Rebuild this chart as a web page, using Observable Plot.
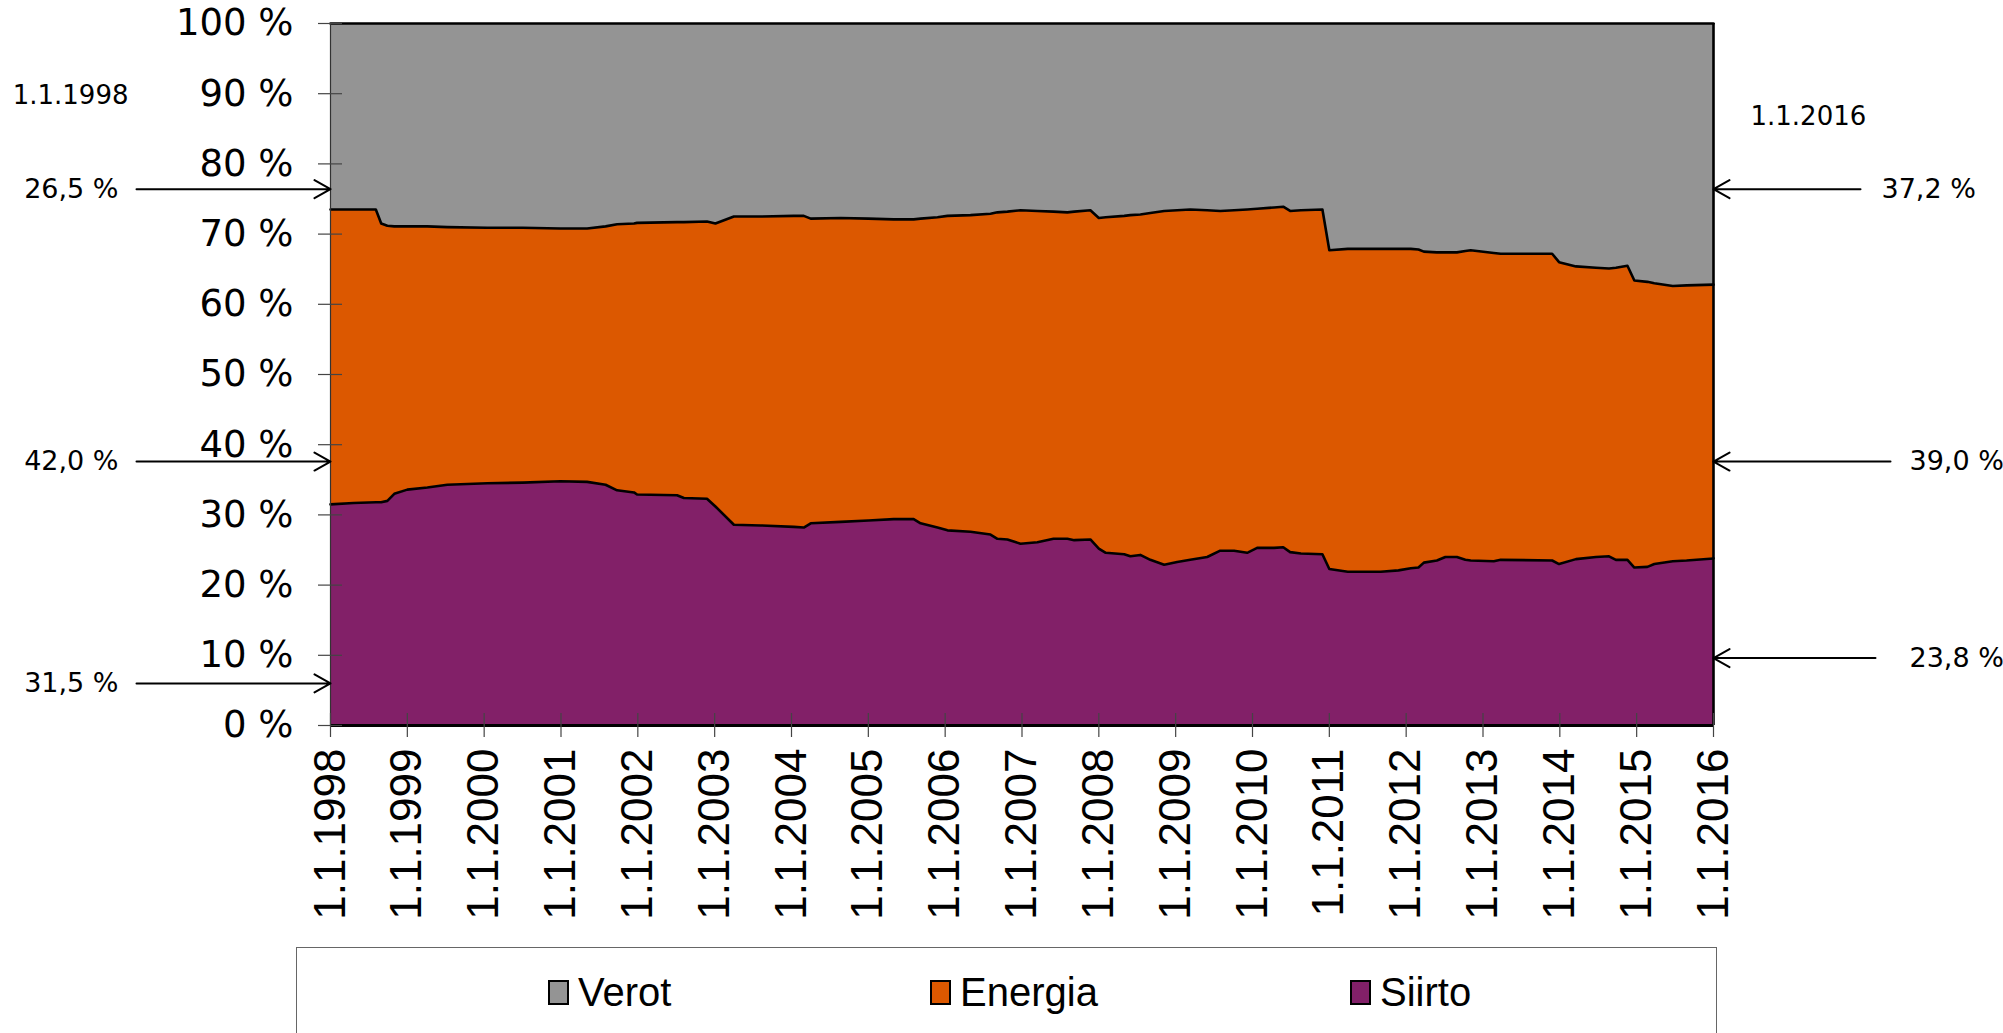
<!DOCTYPE html>
<html>
<head>
<meta charset="utf-8">
<script src="https://cdn.jsdelivr.net/npm/d3@7"></script>
<script src="https://cdn.jsdelivr.net/npm/@observablehq/plot@0.6"></script>
<style>
  html, body { margin: 0; padding: 0; background: #fff; }
  #chart svg { display: block; }
  .legend { position: absolute; left: 296px; top: 947px; width: 1421px; height: 120px;
            border: 1.5px solid #666; border-bottom: none; box-sizing: border-box; background: #fff;
            font-family: "Liberation Sans", Arial, sans-serif; font-size: 40px; color: #000; }
  .legend .item { position: absolute; top: 22px; display: flex; align-items: center; height: 44px; }
  .legend .sw { width: 17px; height: 21px; border: 2px solid #000; margin-right: 9px; }
</style>
</head>
<body>
<div id="chart"></div>
<script>
// ---- data (shares of the electricity price, %) ----
const dates = [
  1998.00, 1998.30, 1998.59, 1998.66, 1998.74, 1998.83, 1999.00, 1999.26, 1999.52, 2000.04,
  2000.50, 2000.99, 2001.34, 2001.58, 2001.73, 2001.95, 2001.99, 2002.51, 2002.60, 2002.90,
  2003.01, 2003.25, 2003.60, 2004.03, 2004.16, 2004.25, 2004.64, 2005.00, 2005.33, 2005.59,
  2005.68, 2005.90, 2006.03, 2006.33, 2006.59, 2006.68, 2006.81, 2006.98, 2007.20, 2007.41,
  2007.59, 2007.68, 2007.89, 2008.00, 2008.09, 2008.33, 2008.41, 2008.54, 2008.67, 2008.85,
  2009.02, 2009.19, 2009.41, 2009.58, 2009.76, 2009.93, 2010.06, 2010.28, 2010.40, 2010.49,
  2010.63, 2010.91, 2011.00, 2011.24, 2011.67, 2011.90, 2012.06, 2012.16, 2012.23, 2012.40,
  2012.51, 2012.66, 2012.77, 2012.84, 2013.14, 2013.23, 2013.90, 2013.99, 2014.21, 2014.47,
  2014.64, 2014.73, 2014.88, 2014.97, 2015.14, 2015.23, 2015.47, 2015.65, 2016.00
];
const siirto = [
  31.5, 31.7, 31.8, 31.8, 32.0, 33.0, 33.6, 33.9, 34.3, 34.5,
  34.6, 34.8, 34.7, 34.3, 33.5, 33.2, 32.9, 32.8, 32.4, 32.3,
  31.2, 28.6, 28.5, 28.3, 28.2, 28.8, 29.0, 29.2, 29.4, 29.4,
  28.8, 28.2, 27.8, 27.6, 27.2, 26.6, 26.5, 25.9, 26.1, 26.6,
  26.6, 26.4, 26.5, 25.2, 24.6, 24.4, 24.1, 24.3, 23.6, 22.9,
  23.3, 23.6, 24.0, 24.9, 24.9, 24.6, 25.3, 25.3, 25.4, 24.7,
  24.5, 24.4, 22.3, 21.9, 21.9, 22.1, 22.4, 22.5, 23.2, 23.5,
  24.0, 24.0, 23.6, 23.5, 23.4, 23.6, 23.5, 23.0, 23.7, 24.0,
  24.1, 23.6, 23.6, 22.5, 22.6, 23.0, 23.4, 23.5, 23.8
];
const energia = [
  42.0, 41.8, 41.7, 39.7, 39.2, 38.1, 37.5, 37.2, 36.7, 36.4,
  36.3, 36.0, 36.1, 36.8, 37.9, 38.3, 38.7, 38.9, 39.3, 39.5,
  40.3, 43.9, 44.0, 44.3, 44.4, 43.4, 43.3, 43.0, 42.7, 42.7,
  43.4, 44.2, 44.8, 45.1, 45.7, 46.5, 46.7, 47.5, 47.2, 46.6,
  46.5, 46.8, 46.9, 47.1, 47.8, 48.2, 48.6, 48.5, 49.4, 50.4,
  50.1, 49.9, 49.4, 48.4, 48.5, 48.9, 48.3, 48.5, 48.5, 48.6,
  48.9, 49.1, 45.4, 46.0, 46.0, 45.8, 45.5, 45.3, 44.3, 43.9,
  43.4, 43.4, 44.0, 44.2, 43.9, 43.6, 43.7, 43.0, 41.7, 41.2,
  41.0, 41.6, 41.9, 40.9, 40.6, 40.0, 39.2, 39.2, 39.0
];
const verot = [
  26.5, 26.5, 26.5, 28.5, 28.8, 28.9, 28.9, 28.9, 29.0, 29.1,
  29.1, 29.2, 29.2, 28.9, 28.6, 28.5, 28.4, 28.3, 28.3, 28.2,
  28.5, 27.5, 27.5, 27.4, 27.4, 27.8, 27.7, 27.8, 27.9, 27.9,
  27.8, 27.6, 27.4, 27.3, 27.1, 26.9, 26.8, 26.6, 26.7, 26.8,
  26.9, 26.8, 26.6, 27.7, 27.6, 27.4, 27.3, 27.2, 27.0, 26.7,
  26.6, 26.5, 26.6, 26.7, 26.6, 26.5, 26.4, 26.2, 26.1, 26.7,
  26.6, 26.5, 32.3, 32.1, 32.1, 32.1, 32.1, 32.2, 32.5, 32.6,
  32.6, 32.6, 32.4, 32.3, 32.7, 32.8, 32.8, 34.0, 34.6, 34.8,
  34.9, 34.8, 34.5, 36.6, 36.8, 37.0, 37.4, 37.3, 37.2
];
const seriesNames = ["Verot", "Energia", "Siirto"];
const seriesColors = ["#949494", "#dc5800", "#822068"];
const yTicks = [0, 10, 20, 30, 40, 50, 60, 70, 80, 90, 100];
const xTicks = [1998, 1999, 2000, 2001, 2002, 2003, 2004, 2005, 2006, 2007, 2008, 2009, 2010, 2011, 2012, 2013, 2014, 2015, 2016];

// ---- tidy table ----
const rows = dates.flatMap((d, i) => [
  {date: d, series: "Siirto", value: siirto[i]},
  {date: d, series: "Energia", value: energia[i]},
  {date: d, series: "Verot", value: verot[i]}
]);
const stackOrder = ["Siirto", "Energia", "Verot"];
const fmt = v => v.toFixed(1).replace(".", ",") + " %";
const first = 0, last = dates.length - 1;

// annotation layout (levels on the % scale, pixel offsets)
const leftNotes = [
  {label: fmt(verot[first]), level: 76.4},
  {label: fmt(energia[first]), level: 37.6},
  {label: fmt(siirto[first]), level: 6.0}
];
const rightNotes = [
  {label: fmt(verot[last]), level: 76.4, len: 147, dx: 168},
  {label: fmt(energia[last]), level: 37.6, len: 177, dx: 196},
  {label: fmt(siirto[last]), level: 9.6, len: 162, dx: 196}
];
const arrowShape = {
  draw(context, l) {
    context.moveTo(0, 0);
    context.lineTo(0, -l);
    context.moveTo(-9, -l + 16);
    context.lineTo(0, -l);
    context.lineTo(9, -l + 16);
  }
};

const W = 2003, H = 940, ML = 330, MR = 290, MT = 23, MB = 215;
const plotW = W - ML - MR, plotH = H - MT - MB;

const rightMarks = rightNotes.flatMap(n => [
  Plot.vector([n], {x: () => dates[last], y: "level", length: n.len, rotate: -90, anchor: "end",
                    shape: arrowShape, stroke: "black", strokeWidth: 2}),
  Plot.text([n], {x: () => dates[last], y: "level", text: "label", dx: n.dx, textAnchor: "start", fontSize: 27})
]);

const chart = Plot.plot({
  width: W, height: H,
  marginLeft: ML, marginRight: MR, marginTop: MT, marginBottom: MB,
  x: {type: "linear", domain: [dates[first], dates[last]], label: null},
  y: {domain: [0, 100], label: null},
  color: {domain: seriesNames, range: seriesColors},
  style: {fontFamily: "DejaVu Sans, sans-serif", background: "white", color: "black", overflow: "visible"},
  marks: [
    Plot.areaY(rows, Plot.stackY({x: "date", y: "value", z: "series", fill: "series", order: stackOrder})),
    Plot.lineY(rows, Plot.stackY2({x: "date", y: "value", z: "series", order: stackOrder, stroke: "black", strokeWidth: 2.6})),
    Plot.ruleX([dates[first]], {stroke: "#333", strokeWidth: 1.2}),
    Plot.ruleX([dates[last]], {stroke: "black", strokeWidth: 2.6}),
    Plot.ruleY([0], {stroke: "black", strokeWidth: 3}),
    Plot.tickY(yTicks, {y: d => d, insetRight: plotW - 24, dx: -12, stroke: "#444", strokeWidth: 1.2}),
    Plot.tickX(xTicks, {x: d => d, insetTop: plotH - 24, dy: 12, stroke: "#444", strokeWidth: 1.2}),
    Plot.axisY({ticks: yTicks, tickSize: 0, tickPadding: 37, tickFormat: d => `${d} %`, fontSize: 37, label: null}),
    Plot.axisX({ticks: xTicks, tickSize: 0, tickPadding: 23, tickRotate: -90, tickFormat: d => `1.1.${d}`,
                fontSize: 44, fontFamily: "Liberation Sans, Arial, sans-serif", label: null}),
    // left annotations
    Plot.vector(leftNotes, {x: () => dates[first], y: "level", length: 194, rotate: 90, anchor: "end",
                            shape: arrowShape, stroke: "black", strokeWidth: 2}),
    Plot.text(leftNotes, {x: () => dates[first], y: "level", text: "label", dx: -212, textAnchor: "end", fontSize: 27}),
    Plot.text([dates[first]], {frameAnchor: "top-left", text: d => `1.1.${d}`, dx: -202, dy: 72,
                               textAnchor: "end", lineAnchor: "middle", fontSize: 26}),
    // right annotations
    ...rightMarks,
    Plot.text([dates[last]], {frameAnchor: "top-right", text: d => `1.1.${d}`, dx: 37, dy: 93,
                              textAnchor: "start", lineAnchor: "middle", fontSize: 26})
  ]
});
document.getElementById("chart").appendChild(chart);

// legend
const legend = document.createElement("div");
legend.className = "legend";
const lefts = [251, 633, 1053];
seriesNames.forEach((name, i) => {
  const item = document.createElement("div");
  item.className = "item";
  item.style.left = lefts[i] + "px";
  const sw = document.createElement("div");
  sw.className = "sw";
  sw.style.background = seriesColors[i];
  const t = document.createElement("span");
  t.textContent = name;
  item.appendChild(sw); item.appendChild(t);
  legend.appendChild(item);
});
document.body.appendChild(legend);
</script>
</body>
</html>
